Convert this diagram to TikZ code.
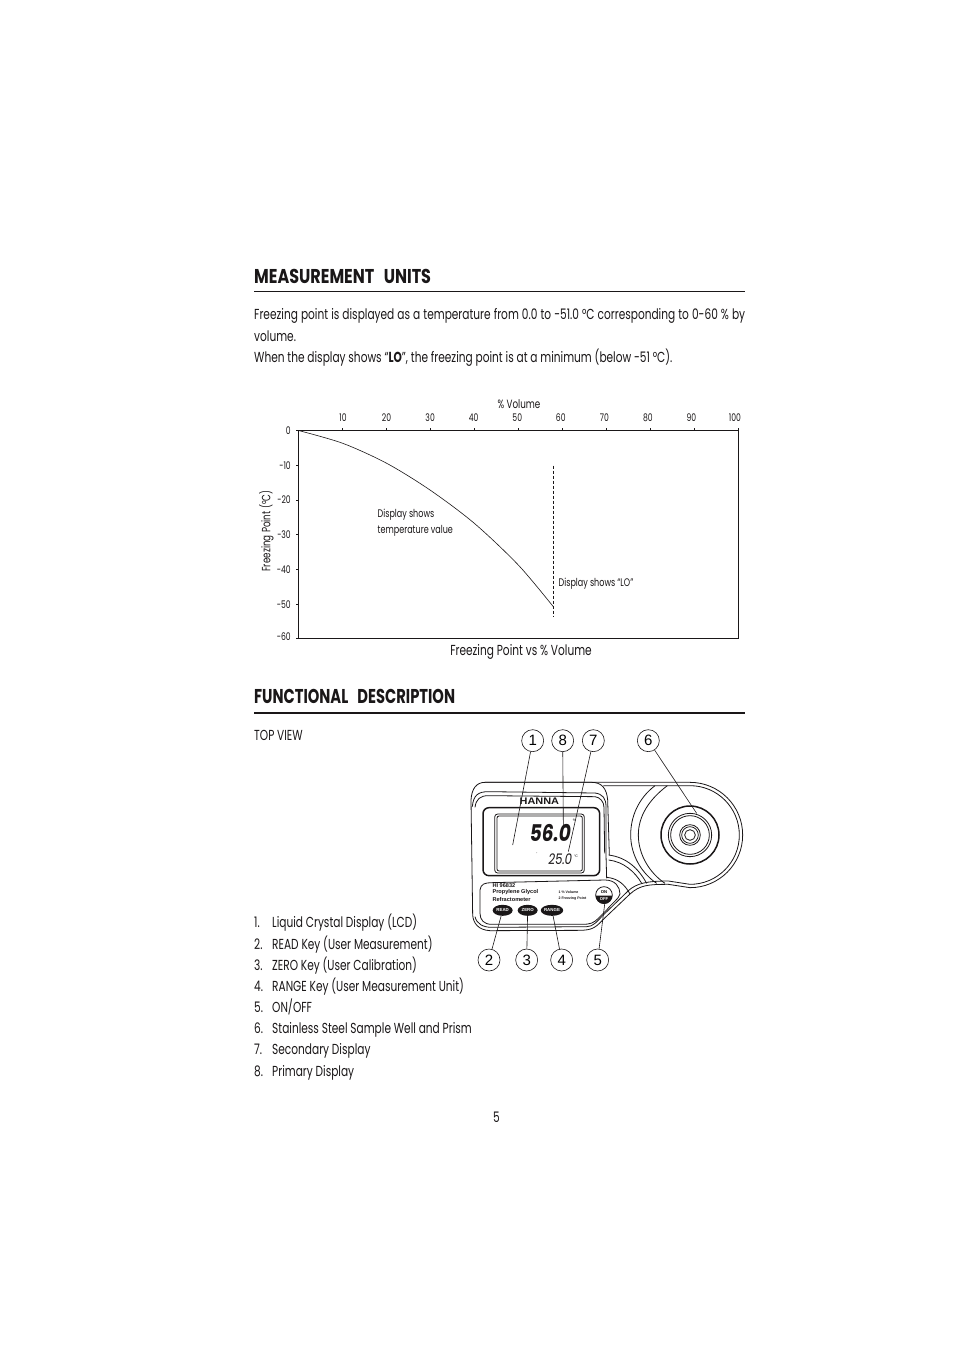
\documentclass[tikz,border=0pt]{standalone}
\usepackage{fontspec}
\setmainfont[FakeStretch=0.73]{Poppins}
\newfontfamily\headfont[FakeStretch=0.8]{Poppins}
\newfontfamily\panelfont{Liberation Sans}
\newfontfamily\lcdfont[FakeSlant=0.15,FakeStretch=0.8]{Poppins}
\usepackage{xcolor}
\definecolor{manual-black}{HTML}{1A1718}
\tikzset{
    heading/.style={anchor=base west, font=\headfont\fontsize{20}{20}\selectfont\bfseries, text=manual-black, inner sep=0},
    bodytext/.style={anchor=base west, font=\fontsize{14.5}{15}\selectfont, text=manual-black, inner sep=0},
    charttext/.style={font=\fontsize{10.5}{12}\selectfont, text=manual-black, inner sep=0},
    paneltext/.style={anchor=west, font=\panelfont\bfseries\fontsize{5.6}{6}\selectfont, text=manual-black, inner sep=0},
    callout/.style={circle, draw=manual-black, line width=0.6pt, minimum size=22pt, inner sep=0, font=\panelfont\fontsize{15}{15}\selectfont},
    keybtn/.style={ellipse, fill=manual-black, text=white, minimum width=20pt, minimum height=11pt, inner sep=0, font=\panelfont\bfseries\fontsize{4.4}{5}\selectfont},
    leader/.style={draw=manual-black, line width=0.6pt},
    outline/.style={draw=manual-black, line width=0.8pt}
}
\usetikzlibrary{shapes.geometric}
\begin{document}
\begin{tikzpicture}[x=1pt, y=-1pt]

    % Page
    \useasboundingbox (0, 0) rectangle (954, 1351);
    \fill[white] (0, 0) rectangle (954, 1351);

    % Measurement units
    \node[heading] (unitshead) at (254, 283) {MEASUREMENT\hspace{6pt} UNITS};
    \fill[manual-black] (254, 290.6) rectangle (745, 292.4);
    \node[bodytext] (unitsa) at (254, 319) {\makebox[491pt][s]{Freezing point is displayed as a temperature from 0.0 to -51.0 °C corresponding to 0-60 \% by}};
    \node[bodytext] (unitsb) at (254, 341) {volume.};
    \node[bodytext] (unitsc) at (254, 362) {When the display shows “\textbf{LO}”, the freezing point is at a minimum (below -51 °C).};

    % Chart
    \draw[manual-black, line width=0.8pt] (298.5, 430.5) rectangle (738.5, 638.5);
    \foreach \xval in {1, ..., 10} {
        \draw[manual-black, line width=0.6pt] (298.5 + 44 * \xval, 430.5) -- ++(0, -3);
        \node[charttext] (xlab\xval) at (299.5 + 43.55 * \xval, 417.5) {\the\numexpr\xval*10\relax};
    }
    \foreach \yval in {0, ..., 6} {
        \draw[manual-black, line width=0.6pt] (298.5, 430.5 + 34.67 * \yval) -- ++(-3, 0);
    }
    \node[charttext, anchor=east] (ylab0) at (291, 431) {0};
    \node[charttext, anchor=east] (ylab1) at (291, 465.5) {-10};
    \node[charttext, anchor=east] (ylab2) at (291, 500) {-20};
    \node[charttext, anchor=east] (ylab3) at (291, 535) {-30};
    \node[charttext, anchor=east] (ylab4) at (291, 569.5) {-40};
    \node[charttext, anchor=east] (ylab5) at (291, 604.5) {-50};
    \node[charttext, anchor=east] (ylab6) at (291, 637) {-60};
    \node[charttext, font=\fontsize{12}{12}\selectfont] (xtitle) at (519, 404.5) {\% Volume};
    \node[charttext, font=\fontsize{12}{12}\selectfont, rotate=90] (ytitle) at (266.5, 531) {Freezing Point (°C)};
    \node[charttext, anchor=west, align=left, font=\fontsize{11}{15.5}\selectfont] (tempnote) at (377.5, 522.5) {Display shows\\temperature value};
    \node[charttext, anchor=west, font=\fontsize{11}{12}\selectfont] (lonote) at (558.5, 583.5) {Display shows “LO”};
    \node[charttext, font=\fontsize{14.5}{15}\selectfont] (charttitle) at (521, 651.5) {Freezing Point vs \% Volume};
    \draw[manual-black, line width=0.6pt] plot[smooth] coordinates {(298.5, 430.5) (342.7, 443.3) (386.7, 463.3) (430, 490) (474.3, 523.3) (518.3, 565) (553.3, 606.7)};
    \draw[manual-black, line width=0.8pt, dash pattern=on 3.5pt off 1.5pt] (553.3, 465.7) -- (553.3, 616.7);

    % Functional description
    \node[heading] (funchead) at (254, 703) {\addfontfeatures{FakeStretch=0.735}FUNCTIONAL\hspace{6pt} DESCRIPTION};
    \fill[manual-black] (254, 712.2) rectangle (745, 714);
    \node[bodytext] (topview) at (254, 740) {TOP VIEW};

    \foreach \num/\ypos/\txt in {
        1/927/Liquid Crystal Display (LCD),
        2/949/READ Key (User Measurement),
        3/970/ZERO Key (User Calibration),
        4/991/RANGE Key (User Measurement Unit),
        5/1012/{ON/OFF},
        6/1033/Stainless Steel Sample Well and Prism,
        7/1054/Secondary Display,
        8/1076/Primary Display} {
        \node[bodytext] (num\num) at (254, \ypos) {\num.};
        \node[bodytext] (item\num) at (272, \ypos) {\txt};
    }

    \node[bodytext] (pagenum) at (493, 1122) {5};

    % Refractometer, drawn in the coordinates of a 3x crop
    \begin{scope}[shift={(460, 720)}, scale=1/3]

        % Body
        \draw[outline] (75, 187) -- (690, 187) arc[start angle=-90, end angle=90, radius=158] -- (625, 493)
            .. controls (565, 493) and (540, 495) .. (510, 522) -- (430, 598)
            .. controls (405, 625) and (395, 630) .. (360, 631) -- (90, 632)
            .. controls (55, 630) and (40, 610) .. (38, 585) -- (33, 240)
            .. controls (35, 205) and (50, 187) .. (75, 187);
        \draw[outline] (430, 197) -- (690, 197) arc[start angle=-90, end angle=90, radius=148] -- (625, 483);
        \draw[outline] (45, 590) .. controls (50, 612) and (70, 622) .. (95, 622) -- (380, 620)
            .. controls (400, 620) and (410, 605) .. (430, 585) -- (505, 512)
            .. controls (530, 490) and (560, 483) .. (625, 483);

        % Upper frame
        \draw[outline] (75, 187) -- (395, 187) .. controls (425, 187) and (440, 205) .. (443, 240) -- (448, 405);
        \draw[outline] (37, 260) .. controls (40, 225) and (55, 215) .. (85, 215) -- (405, 219) .. controls (428, 222) and (438, 235) .. (438, 260) -- (438, 405) -- (440, 475);
        \draw[outline] (45, 262) .. controls (48, 238) and (60, 227) .. (85, 227) -- (405, 230) .. controls (420, 232) and (432, 245) .. (432, 262) -- (434, 400);

        % Display
        \draw[manual-black, line width=1.5pt, rounded corners=6pt] (69, 263) rectangle (419, 467);
        \draw[outline, rounded corners=3pt] (104, 282) rectangle (373, 459);
        \draw[outline, rounded corners=2pt] (111, 288) rectangle (367, 453);
        \node[inner sep=0, font=\panelfont\bfseries\fontsize{9.5}{10}\selectfont, text=manual-black] (logo) at (238, 245) {\addfontfeatures{FakeStretch=1.15}HANNA};
        \node[inner sep=0, font=\lcdfont\bfseries\fontsize{23}{24}\selectfont, text=manual-black] (primary) at (268, 340) {56.0};
        \node[inner sep=0, font=\lcdfont\fontsize{14.5}{15}\selectfont, text=manual-black] (secondary) at (299, 419) {25.0};
        \node[inner sep=0, font=\panelfont\fontsize{3.5}{4}\selectfont] (unitc) at (348, 408) {°C};
        \node[inner sep=0, font=\panelfont\fontsize{3.5}{4}\selectfont] (unitv) at (343, 300) {\%};
        \node[inner sep=0, font=\panelfont\fontsize{4}{4}\selectfont] (tickmark) at (231, 403) {'};

        % Lower panel
        \draw[outline] (60, 510) .. controls (62, 492) and (75, 488) .. (95, 488) -- (435, 480)
            .. controls (465, 480) and (480, 500) .. (480, 522) .. controls (478, 535) and (455, 550) .. (440, 570)
            -- (415, 595) .. controls (400, 610) and (390, 613) .. (365, 613) -- (95, 613)
            .. controls (72, 613) and (60, 600) .. (60, 580) -- cycle;
        \node[paneltext] (model) at (97, 497) {HI 96832};
        \node[paneltext] (prodname) at (97, 517) {Propylene Glycol};
        \node[paneltext] (prodtype) at (97, 537) {Refractometer};
        \node[paneltext, font=\panelfont\bfseries\fontsize{3.6}{4}\selectfont] (rangea) at (295, 517) {1 \% Volume};
        \node[paneltext, font=\panelfont\bfseries\fontsize{3.6}{4}\selectfont] (rangeb) at (295, 535) {2 Freezing Point};

        % Keys
        \node[keybtn] (readkey) at (128, 571) {READ};
        \node[keybtn] (zerokey) at (203, 571) {ZERO};
        \node[keybtn] (rangekey) at (276, 571) {RANGE};
        \draw[outline, fill=white] (432, 525) circle (25);
        \fill[manual-black] (407, 527) arc[start angle=180, end angle=0, radius=25] -- cycle;
        \node[inner sep=0, font=\panelfont\bfseries\fontsize{4.2}{5}\selectfont] (onkey) at (432, 517) {ON};
        \node[inner sep=0, text=white, font=\panelfont\bfseries\fontsize{4.2}{5}\selectfont] (offkey) at (432, 537) {OFF};

        % Neck between panel and well
        \draw[outline] (446, 405) .. controls (500, 412) and (535, 445) .. (560, 490);
        \draw[outline] (446, 420) .. controls (490, 425) and (525, 455) .. (545, 490);
        \draw[outline] (440, 472) .. controls (475, 475) and (495, 495) .. (510, 522);

        % Sample well
        \draw[outline] (585, 197) .. controls (535, 235) and (512, 290) .. (512, 345) .. controls (512, 405) and (545, 460) .. (590, 490);
        \draw[outline] (622, 197) .. controls (565, 240) and (535, 290) .. (535, 345) .. controls (535, 405) and (570, 460) .. (615, 490);
        \draw[manual-black, line width=1.5pt] (690, 345) circle (87);
        \draw[outline] (690, 345) circle (65);
        \draw[outline] (690, 345) circle (58);
        \draw[outline] (690, 345) circle (31);
        \draw[outline] (690, 345) circle (25);
        \draw[outline] (690, 345) circle (16);

        % Callouts
        \node[callout] (one) at (218, 62) {1};
        \node[callout] (eight) at (308, 62) {8};
        \node[callout] (seven) at (400, 62) {7};
        \node[callout] (six) at (565, 62) {6};
        \node[callout] (two) at (87, 720) {2};
        \node[callout] (three) at (200, 720) {3};
        \node[callout] (four) at (305, 720) {4};
        \node[callout] (five) at (413, 720) {5};

        \coordinate (lcdpoint) at (158, 375);
        \coordinate (primarypoint) at (310, 315);
        \coordinate (secondarypoint) at (325, 395);
        \coordinate (wellpoint) at (710, 280);
        \coordinate (onoffpoint) at (435, 545);

        \draw[leader] (one) -- (lcdpoint);
        \draw[leader] (eight) -- (primarypoint);
        \draw[leader] (seven) -- (secondarypoint);
        \draw[leader] (six) -- (wellpoint);
        \draw[leader] (two) -- (readkey);
        \draw[leader] (three) -- (zerokey);
        \draw[leader] (four) -- (rangekey);
        \draw[leader] (five) -- (onoffpoint);

    \end{scope}

\end{tikzpicture}
\end{document}
